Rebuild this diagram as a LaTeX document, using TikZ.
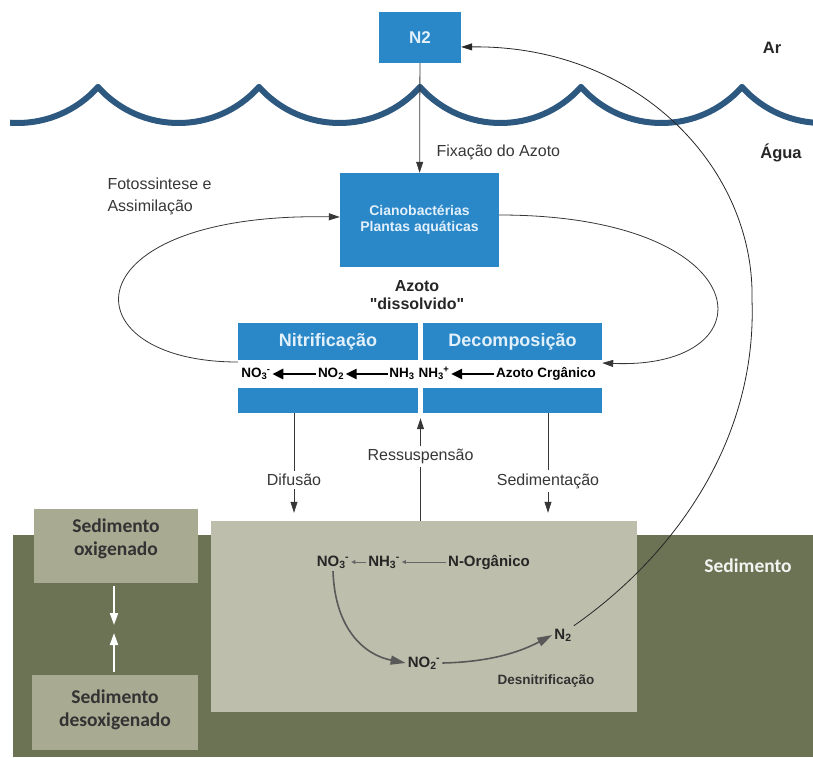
\documentclass[tikz,border=0pt]{standalone}
\usepackage{fontspec}
\setmainfont{Liberation Sans}[Ligatures=TeXOff]
\newfontfamily\calfont{Carlito}
\usetikzlibrary{arrows.meta}
\definecolor{boxBlue}{RGB}{42,135,200}
\definecolor{waveBlue}{RGB}{45,88,128}
\definecolor{sedDark}{RGB}{108,114,84}
\definecolor{sedLight}{RGB}{190,190,172}
\definecolor{sedMid}{RGB}{168,170,146}
\definecolor{inkGrey}{RGB}{55,55,55}
\definecolor{paleText}{RGB}{225,240,250}
\newcommand{\chem}[3]{#1\textsubscript{#2}\kern-0.5pt\textsuperscript{#3}}

\begin{document}
\begin{tikzpicture}[x=1pt,y=-1pt,
    bluebox/.style={fill=boxBlue, inner sep=0pt},
    flowline/.style={draw=inkGrey, line width=0.8pt, -{Triangle[length=11pt,width=7pt]}},
    fatarrow/.style={line width=2.6pt, -{Triangle[length=11pt,width=10pt]}},
    sedarrow/.style={draw=black!65, line width=1.6pt, -{Triangle[length=15pt,width=9pt]}},
    tinyarrow/.style={draw=black!60, line width=0.8pt, -{Triangle[length=4pt,width=4pt]}},
    lbl/.style={text=inkGrey, font=\fontsize{16}{22}\selectfont},
    bandchem/.style={font=\bfseries\fontsize{13.5}{16}\selectfont, inner sep=1.5pt, text height=10pt, text depth=3pt},
    sedchem/.style={font=\bfseries\fontsize{15}{18}\selectfont, text=black!85, inner sep=2pt, text height=11pt, text depth=3pt},
    sedlbl/.style={font=\calfont\bfseries\fontsize{19.5}{23}\selectfont, align=center}]
    \useasboundingbox (0,0) rectangle (813,757);

    \begin{scope}
        \clip (10,0) rectangle (813,200);
        \foreach \x in {-63,98,...,742}
            \draw[waveBlue, line width=6pt, line cap=round] (\x,87) .. controls +(43,48) and +(-43,48) .. (\x+161,87);
    \end{scope}

    \fill[sedDark] (13,535) rectangle (813,757);
    \node[fill=sedLight, minimum width=426pt, minimum height=191pt] (sedbox) at (424,616.5) {};
    \node[fill=sedMid, minimum width=164pt, minimum height=74pt] (oxi) at (116,546) {};
    \node[fill=sedMid, minimum width=166pt, minimum height=75pt] (desox) at (115,712.5) {};
    \node[sedlbl, text=black!80] at ([yshift=7pt]oxi.center) {Sedimento\\oxigenado};
    \node[sedlbl, text=black!80] at ([yshift=3pt]desox.center) {Sedimento\\desoxigenado};
    \node[sedlbl, text=white!92!sedDark] (sedim) at (748,566) {Sedimento};
    \coordinate (meet) at (114,629);
    \draw[white, line width=2pt, -{Triangle[length=12pt,width=8pt]}, shorten <=3pt, shorten >=4pt] (oxi.south -| meet) -- (meet);
    \draw[white, line width=2pt, -{Triangle[length=12pt,width=8pt]}, shorten <=3pt, shorten >=4pt] (desox.north -| meet) -- (meet);

    \node[bluebox, minimum width=82pt, minimum height=51pt, text=paleText, font=\bfseries\fontsize{17}{20}\selectfont] (n2) at (420,37.5) {N2};
    \node[bluebox, minimum width=159pt, minimum height=94pt, text=paleText, align=center, font=\bfseries\fontsize{14}{16.5}\selectfont] (cyano) at (419.5,220) {Cianobactérias\\Plantas aquáticas};
    \node[bluebox, minimum width=180pt, minimum height=90pt] (nitri) at (328,368) {};
    \node[bluebox, minimum width=179pt, minimum height=90pt] (decomp) at (512.5,368) {};
    \fill[white] (nitri.west |- 0,360) rectangle (nitri.east |- 0,388);
    \fill[white] (decomp.west |- 0,360) rectangle (decomp.east |- 0,388);
    \node[text=paleText, font=\bfseries\fontsize{18}{20}\selectfont] (nitriT) at (nitri.north |- 0,342) {Nitrificação};
    \node[text=paleText, font=\bfseries\fontsize{18}{20}\selectfont] (decompT) at (decomp.north |- 0,342) {Decomposição};

    \node[bandchem] (no3a) at (256,374) {\chem{NO}{3}{-}};
    \node[bandchem] (no2a) at (331,374) {NO\textsubscript{2}};
    \node[bandchem] (nh3a) at (402,374) {NH\textsubscript{3}};
    \node[bandchem] (nh3b) at (434,374) {\chem{NH}{3}{+}};
    \node[bandchem] (orga) at (546,374) {Azoto Crgânico};
    \draw[fatarrow] (no2a) -- (no3a);
    \draw[fatarrow] (nh3a) -- (no2a);
    \draw[fatarrow] (orga) -- (nh3b);

    \node[font=\bfseries\fontsize{16}{18}\selectfont, text=black!85, align=center] (diss) at (417,295) {Azoto\\"dissolvido"};
    \node[lbl, anchor=west, align=left] (foto) at (104,196) {Fotossintese e\\Assimilação};
    \node[lbl, anchor=west] (fix) at (433,152) {Fixação do Azoto};
    \node[font=\bfseries\fontsize{16.5}{18}\selectfont, text=black!85] (ar) at (772,48) {Ar};
    \node[font=\bfseries\fontsize{16.5}{18}\selectfont, text=black!85] (agua) at (781,153) {Água};

    \draw[flowline] (n2) -- (cyano);
    \draw[flowline] ([yshift=6pt]nitri.west) .. controls (66,362) and (66,212) .. ([yshift=3pt]cyano.west);
    \draw[flowline] ([yshift=5pt]cyano.east) .. controls (760,215) and (774,370) .. ([yshift=5pt]decomp.east);
    \draw[flowline, shorten >=8pt] (nitri.south -| 294,0) -- node[lbl, pos=.62, fill=white] (difu) {Difusão} (sedbox.north -| 294,0);
    \draw[flowline, shorten >=5pt] (sedbox.north -| 420.5,0) -- node[lbl, pos=.6, fill=white] (ress) {Ressuspensão} (nitri.south -| 420.5,0);
    \draw[flowline, shorten >=8pt] (decomp.south -| 548,0) -- node[lbl, pos=.63, fill=white] (sedi) {Sedimentação} (sedbox.north -| 548,0);

    \node[sedchem] (no3s) at (333,562) {\chem{NO}{3}{-}};
    \node[sedchem] (nh3s) at (384,562) {\chem{NH}{3}{-}};
    \node[sedchem] (norg) at (489,562) {N-Orgânico};
    \node[sedchem] (no2s) at (424,663) {\chem{NO}{2}{-}};
    \node[sedchem] (n2s) at (563,635) {N\textsubscript{2}};
    \node[font=\bfseries\fontsize{13.5}{16}\selectfont, text=black!80] (desn) at (546,681) {Desnitrificação};
    \draw[tinyarrow] (norg) -- (nh3s);
    \draw[tinyarrow] (nh3s) -- (no3s);
    \draw[sedarrow] (no3s.south) .. controls (335,630) and (365,655) .. (no2s.west);
    \draw[sedarrow] (no2s.east) .. controls (490,662) and (520,652) .. (n2s.west);

    \coordinate (bend) at (752,300);
    \draw[flowline, draw=black!85] (n2s.north east) .. controls (675,555) and (757,440) .. (bend) .. controls (755,170) and (640,45) .. ([yshift=-9.5pt]n2.east);
\end{tikzpicture}
\end{document}
